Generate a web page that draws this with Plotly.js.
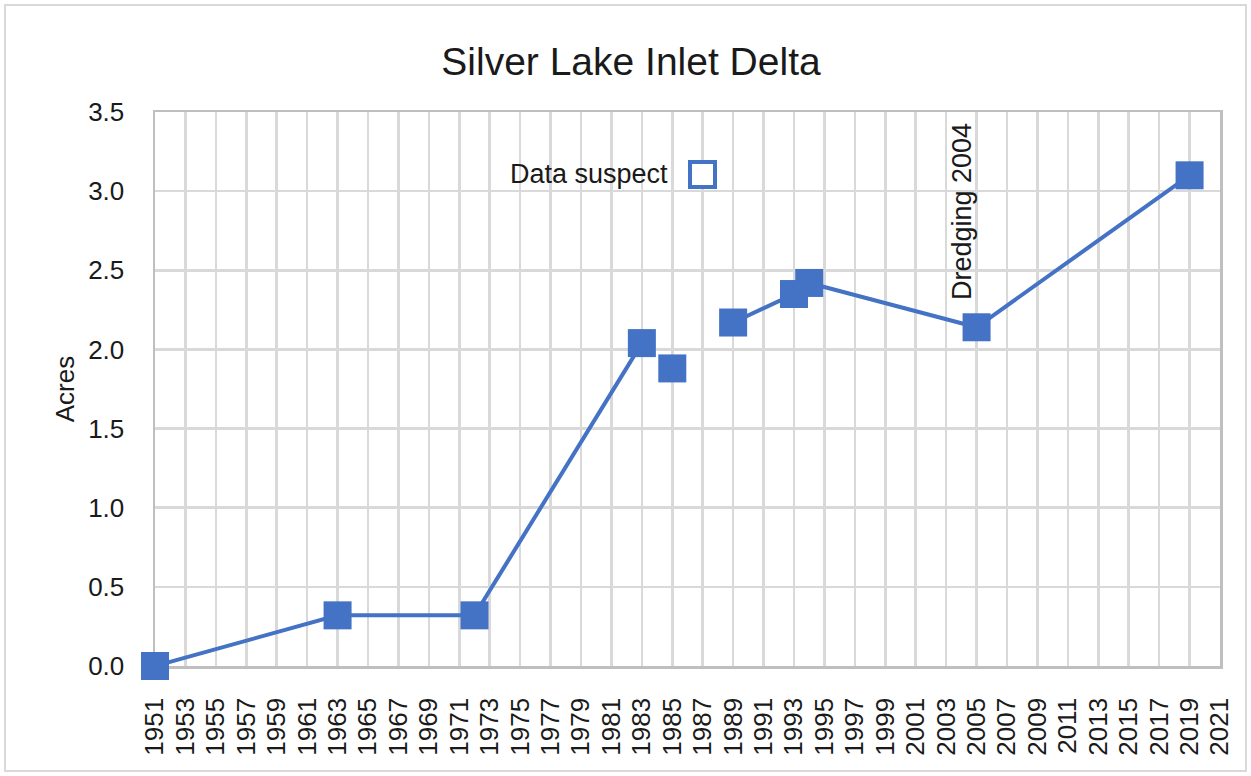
<!DOCTYPE html>
<html>
<head>
<meta charset="utf-8">
<script src="https://cdn.plot.ly/plotly-3.0.1.min.js"></script>
<style>
  html, body { margin: 0; padding: 0; background: #ffffff; }
  #wrap { position: relative; width: 1251px; height: 776px; }
  #chart { width: 1251px; height: 776px; }
  #frame { position: absolute; left: 4px; top: 4px; right: 4px; bottom: 4px;
           border: 2px solid #d9d9d9; pointer-events: none; }
</style>
</head>
<body>
<div id="wrap">
  <div id="chart"></div>
  <div id="frame"></div>
</div>
<script>
// Data
const years = [1951, 1963, 1972, 1983, 1985, 1989, 1993, 1994, 2005, 2019];
const acres = [0.00, 0.32, 0.32, 2.04, null, 2.17, 2.35, 2.42, 2.14, 3.10];
const suspectYears = [1985];
const suspectAcres = [1.88];
const yTickVals = [0, 0.5, 1.0, 1.5, 2.0, 2.5, 3.0, 3.5];
const yTickText = ['0.0', '0.5', '1.0', '1.5', '2.0', '2.5', '3.0', '3.5'];
const chartTitle = 'Silver Lake Inlet Delta';
const yTitle = 'Acres';
const legendLabel = 'Data suspect';
const noteText = 'Dredging 2004';
const noteYear = 2004;
const noteY = 2.87;

const blue = '#4472c4';
const txt = '#1a1a1a';
const fontFam = '"Liberation Sans", Arial, sans-serif';

const traces = [
  {
    x: years, y: acres, type: 'scatter', mode: 'lines+markers',
    connectgaps: false,
    line: { color: blue, width: 4 },
    marker: { symbol: 'square', size: 28, color: blue },
    showlegend: false, cliponaxis: false, hoverinfo: 'x+y'
  },
  {
    x: suspectYears, y: suspectAcres, type: 'scatter', mode: 'markers',
    marker: { symbol: 'square', size: 28, color: blue },
    showlegend: false, cliponaxis: false, hoverinfo: 'x+y'
  }
];

const layout = {
  width: 1251, height: 776,
  margin: { l: 155, r: 31, t: 112, b: 110 },
  paper_bgcolor: '#ffffff', plot_bgcolor: '#ffffff',
  font: { family: fontFam, color: txt, size: 26 },
  title: {
    text: chartTitle, font: { family: fontFam, size: 39, color: txt },
    x: 631 / 1251, xanchor: 'center', xref: 'container',
    y: 1 - 61 / 776, yanchor: 'middle', yref: 'container'
  },
  xaxis: {
    range: [1951, 2021], tick0: 1951, dtick: 2, tickmode: 'linear',
    tickangle: -90, tickfont: { family: fontFam, size: 26, color: txt },
    showgrid: true, gridcolor: '#d9d9d9', gridwidth: 2.5,
    showline: true, linecolor: '#bfbfbf', linewidth: 2.5, mirror: true,
    layer: 'below traces',
    ticks: '', ticklabelstandoff: 19, zeroline: false, fixedrange: true
  },
  yaxis: {
    range: [0, 3.5], tickmode: 'array', tickvals: yTickVals, ticktext: yTickText,
    tickfont: { family: fontFam, size: 26, color: txt },
    showgrid: true, gridcolor: '#d9d9d9', gridwidth: 2.5,
    showline: true, linecolor: '#bfbfbf', linewidth: 2.5, mirror: true,
    layer: 'below traces',
    ticks: '', ticklabelstandoff: 23, zeroline: false, fixedrange: true,
    title: { text: yTitle, font: { family: fontFam, size: 26, color: txt }, standoff: 6 }
  },
  annotations: [
    {
      x: noteYear, y: noteY, xref: 'x', yref: 'y', text: noteText,
      textangle: -90, showarrow: false, xanchor: 'center', yanchor: 'middle',
      font: { family: fontFam, size: 27, color: txt }
    },
    {
      x: (670 - 155) / 1065, y: (666 - 174) / 554, xref: 'paper', yref: 'paper',
      text: legendLabel, showarrow: false, xanchor: 'right', yanchor: 'middle',
      font: { family: fontFam, size: 27, color: txt }
    }
  ],
  shapes: [
    {
      type: 'rect', xref: 'paper', yref: 'paper',
      x0: (690 - 155) / 1065, x1: (715 - 155) / 1065,
      y0: (666 - 187) / 554, y1: (666 - 162) / 554,
      line: { color: blue, width: 4 }, fillcolor: '#ffffff'
    }
  ]
};

Plotly.newPlot('chart', traces, layout, { displayModeBar: false, staticPlot: true });
</script>
</body>
</html>
